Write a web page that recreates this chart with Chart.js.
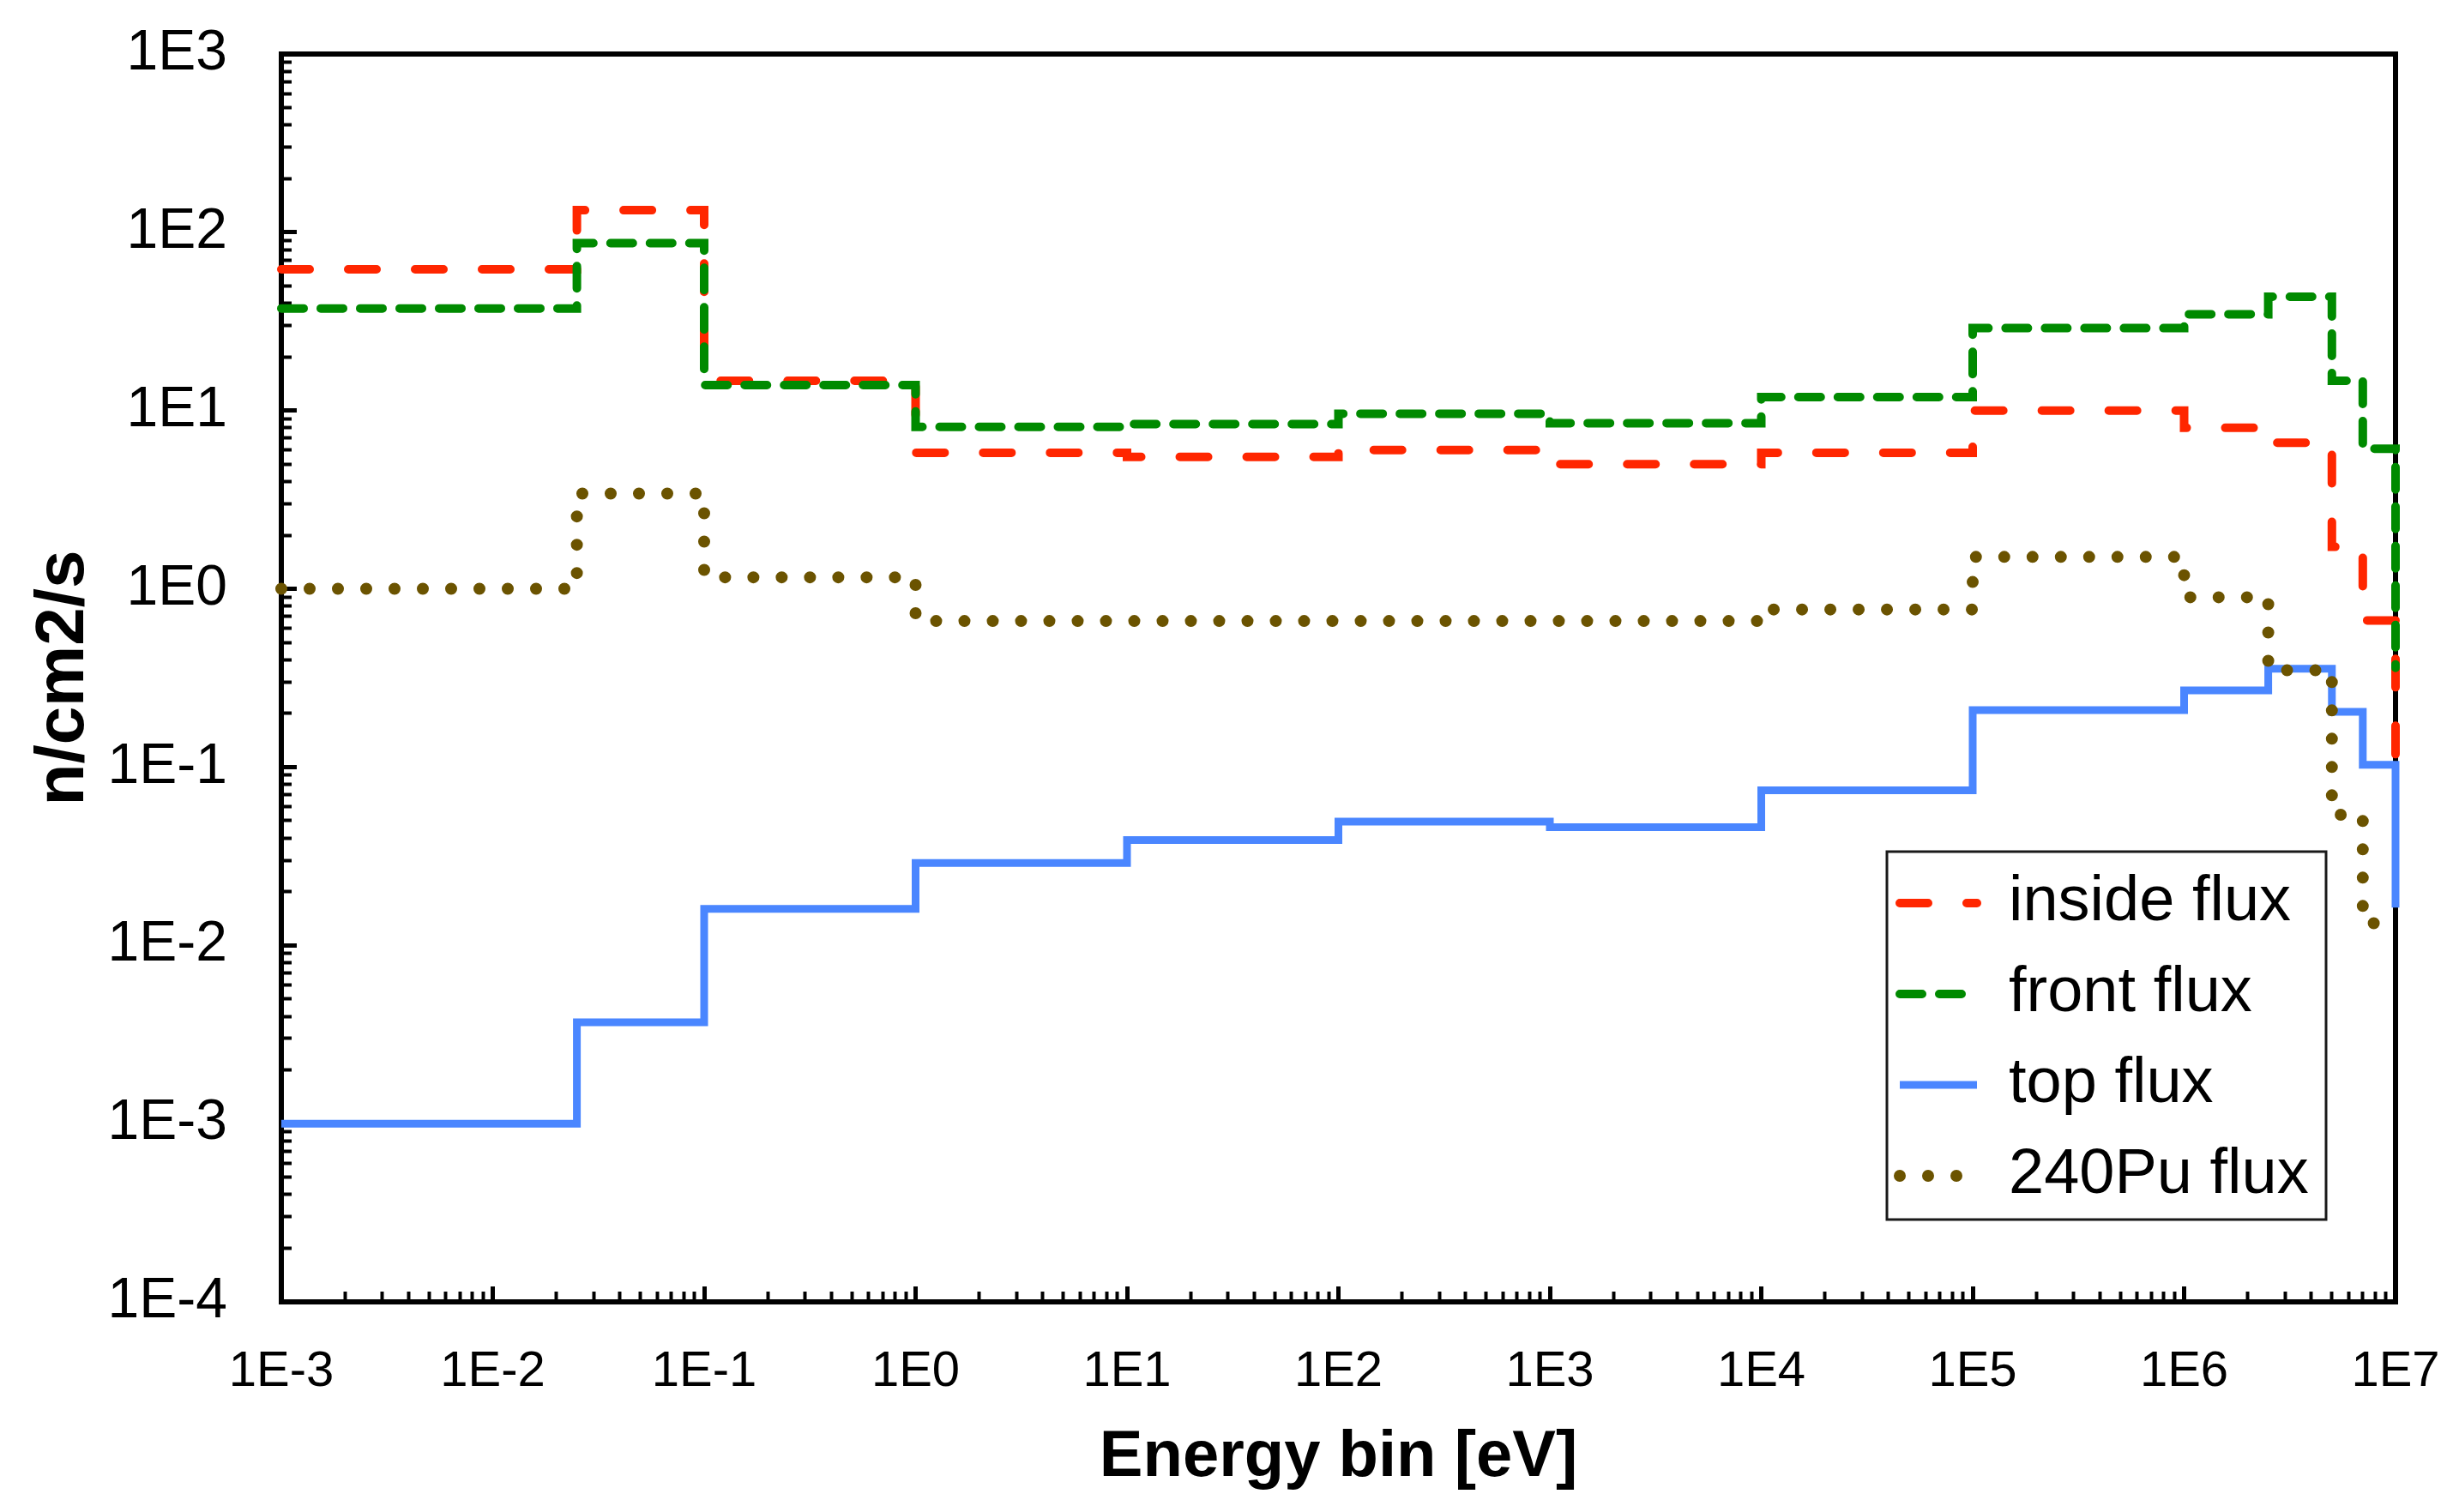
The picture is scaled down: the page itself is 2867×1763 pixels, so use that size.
<!DOCTYPE html>
<html>
<head>
<meta charset="utf-8">
<script src="https://cdn.jsdelivr.net/npm/chart.js@4.4.1/dist/chart.umd.min.js"></script>
<style>
  html, body { margin: 0; padding: 0; background: #ffffff; }
  #wrap { width: 2867px; height: 1763px; }
</style>
</head>
<body>
<div id="wrap"><canvas id="c" width="2867" height="1763" style="width:2867px;height:1763px"></canvas></div>
<script>
// ---------------- data ----------------
const binEdges   = [0.001, 0.025, 0.1, 1, 10, 100, 1000, 1e4, 1e5, 1e6, 2.5e6, 5e6, 7e6, 1e7];
const insideFlux = [62, 133, 14.7, 5.8, 5.5, 6.0, 5.0, 5.8, 10.0, 8.0, 6.6, 1.72, 0.665];
const frontFlux  = [37.4, 87, 13.9, 8.1, 8.4, 9.6, 8.5, 11.9, 29, 34.7, 43.5, 14.7, 6.1];
const topFlux    = [0.001, 0.0037, 0.016, 0.029, 0.039, 0.0495, 0.046, 0.074, 0.209, 0.269, 0.356, 0.204, 0.103];
const pu240Flux  = [1.0, 3.42, 1.16, 0.66, 0.66, 0.66, 0.66, 0.766, 1.51, 0.897, 0.349, 0.054, 0.0133];
// value each trace falls to at the last edge (1E7)
const insideEnd = 0.075;
const frontEnd  = 0.36;
const topEnd    = 0.0163;
const pu240End  = 0.0133;
const seriesNames = ['inside flux', 'front flux', 'top flux', '240Pu flux'];
const xTickLabels = ['1E-3', '1E-2', '1E-1', '1E0', '1E1', '1E2', '1E3', '1E4', '1E5', '1E6', '1E7'];
const yTickLabels = ['1E-4', '1E-3', '1E-2', '1E-1', '1E0', '1E1', '1E2', '1E3'];
const xTitle = 'Energy bin [eV]';
const yTitle = 'n/cm2/s';

// ---------------- helpers ----------------
function stepPoints(values, endValue) {
  const pts = values.map((v, i) => ({ x: binEdges[i], y: v }));
  pts.push({ x: binEdges[binEdges.length - 1], y: endValue });
  return pts;
}
function logTicks(min, max, majorOnly) {
  const out = [];
  const e0 = Math.round(Math.log10(min)), e1 = Math.round(Math.log10(max));
  for (let e = e0; e <= e1; e++) {
    for (let m = 1; m <= 9; m++) {
      if (majorOnly && m > 1) continue;
      const v = parseFloat((m * Math.pow(10, e)).toPrecision(12));
      if (v > max * 1.0000001) break;
      out.push({ value: v, major: m === 1 });
    }
  }
  return out;
}
function labelFor(labels, min) {
  const e0 = Math.round(Math.log10(min));
  return function (value, index, ticks) {
    if (!ticks[index] || !ticks[index].major) return '';
    return labels[Math.round(Math.log10(value)) - e0];
  };
}
function fixSize(prop, size) {
  return s => {
    s[prop] = size;
    s.paddingTop = 0; s.paddingBottom = 0; s.paddingLeft = 0; s.paddingRight = 0;
  };
}

const FONT = "'Liberation Sans', Arial, Helvetica, sans-serif";
const X_MIN = 1e-3, X_MAX = 1e7, Y_MIN = 1e-4, Y_MAX = 1e3;

// frame + legend placement plugin
const framePlugin = {
  id: 'frameAndLegend',
  afterLayout(chart) {
    const lg = chart.legend;
    if (!lg) return;
    lg.left = 2183; lg.top = 984;
    lg.width = 600; lg.height = 600;
    lg.right = lg.left + lg.width; lg.bottom = lg.top + lg.height;
  },
  beforeDatasetsDraw(chart) {
    const { ctx, chartArea: a } = chart;
    ctx.save();
    ctx.strokeStyle = '#000';
    ctx.lineWidth = 6;
    ctx.strokeRect(a.left, a.top, a.right - a.left, a.bottom - a.top);
    ctx.restore();
  },
  afterDraw(chart) {
    const lg = chart.legend;
    if (!lg) return;
    const ctx = chart.ctx;
    ctx.save();
    ctx.strokeStyle = '#1a1a1a';
    ctx.lineWidth = 3;
    ctx.strokeRect(lg.left + 17, lg.top + 9, 512, 429);
    ctx.restore();
  }
};

const minorGrid = { display: true, drawOnChartArea: false, drawTicks: true, tickLength: -12, tickWidth: 4, tickColor: '#000' };
const majorGrid = { display: true, drawOnChartArea: false, drawTicks: true, tickLength: -18, tickWidth: 5, tickColor: '#000' };

new Chart(document.getElementById('c'), {
  type: 'line',
  data: {
    datasets: [
      { label: seriesNames[0], data: stepPoints(insideFlux, insideEnd), borderColor: '#ff2600', backgroundColor: '#ff2600',
        borderWidth: 10, borderDash: [33, 45], borderCapStyle: 'round', order: 4 },
      { label: seriesNames[1], data: stepPoints(frontFlux, frontEnd), borderColor: '#008a00', backgroundColor: '#008a00',
        borderWidth: 10, borderDash: [26, 20], borderCapStyle: 'round', order: 3 },
      { label: seriesNames[2], data: stepPoints(topFlux, topEnd), borderColor: '#4a86ff', backgroundColor: '#4a86ff',
        borderWidth: 9, borderDash: [], borderCapStyle: 'butt', order: 2 },
      { label: seriesNames[3], data: stepPoints(pu240Flux, pu240End), borderColor: '#6b5300', backgroundColor: '#6b5300',
        borderWidth: 14, borderDash: [0, 33], borderCapStyle: 'round', order: 1 }
    ].map(d => Object.assign(d, { stepped: 'before', fill: false, pointRadius: 0, pointHoverRadius: 0, tension: 0,
                                   borderJoinStyle: 'miter', clip: false, xAxisID: 'x', yAxisID: 'y' }))
  },
  options: {
    responsive: false,
    animation: false,
    devicePixelRatio: 1,
    layout: { padding: { left: 0, top: 63, right: 74, bottom: 0 } },
    events: [],
    plugins: {
      tooltip: { enabled: false },
      title: { display: false },
      legend: {
        display: true,
        position: 'chartArea',
        align: 'start',
        labels: {
          usePointStyle: true,
          pointStyleWidth: 90,
          boxWidth: 90,
          padding: 32,
          color: '#000',
          font: { family: FONT, size: 74 },
          generateLabels(chart) {
            return chart.data.datasets.map((ds, i) => ({
              text: ds.label,
              strokeStyle: ds.borderColor,
              fillStyle: ds.borderColor,
              lineWidth: ds.borderWidth,
              lineDash: ds.borderDash,
              lineCap: ds.borderCapStyle,
              pointStyle: 'line',
              hidden: false,
              datasetIndex: i,
              fontColor: '#000'
            }));
          }
        }
      }
    },
    scales: {
      x: {
        type: 'logarithmic', position: 'bottom', weight: 1, min: X_MIN, max: X_MAX,
        border: { display: false },
        grid: minorGrid,
        afterBuildTicks: s => { s.ticks = logTicks(X_MIN, X_MAX, false); },
        afterFit: fixSize('height', 245),
        ticks: { autoSkip: false, maxRotation: 0, minRotation: 0, padding: 59, color: '#000',
                 font: { family: FONT, size: 58 }, callback: labelFor(xTickLabels, X_MIN) },
        title: { display: true, text: xTitle, color: '#000', font: { family: FONT, size: 76, weight: 'bold' },
                 padding: { top: 0, bottom: 17 } }
      },
      x2: {
        type: 'logarithmic', position: 'bottom', weight: 0, min: X_MIN, max: X_MAX,
        border: { display: false },
        grid: majorGrid,
        afterBuildTicks: s => { s.ticks = logTicks(X_MIN, X_MAX, true); },
        afterFit: fixSize('height', 0),
        ticks: { display: false, autoSkip: false }
      },
      y: {
        type: 'logarithmic', position: 'left', weight: 1, min: Y_MIN, max: Y_MAX,
        border: { display: false },
        grid: minorGrid,
        afterBuildTicks: s => { s.ticks = logTicks(Y_MIN, Y_MAX, false); },
        afterFit: fixSize('width', 328),
        ticks: { autoSkip: false, padding: 75, color: '#000',
                 font: { family: FONT, size: 66 }, callback: labelFor(yTickLabels, Y_MIN) },
        title: { display: true, text: yTitle, color: '#000', font: { family: FONT, size: 80, weight: 'bold' },
                 padding: { top: 27, bottom: 0 } }
      },
      y2: {
        type: 'logarithmic', position: 'left', weight: 0, min: Y_MIN, max: Y_MAX,
        border: { display: false },
        grid: majorGrid,
        afterBuildTicks: s => { s.ticks = logTicks(Y_MIN, Y_MAX, true); },
        afterFit: fixSize('width', 0),
        ticks: { display: false, autoSkip: false }
      }
    }
  },
  plugins: [framePlugin]
});
</script>
</body>
</html>
